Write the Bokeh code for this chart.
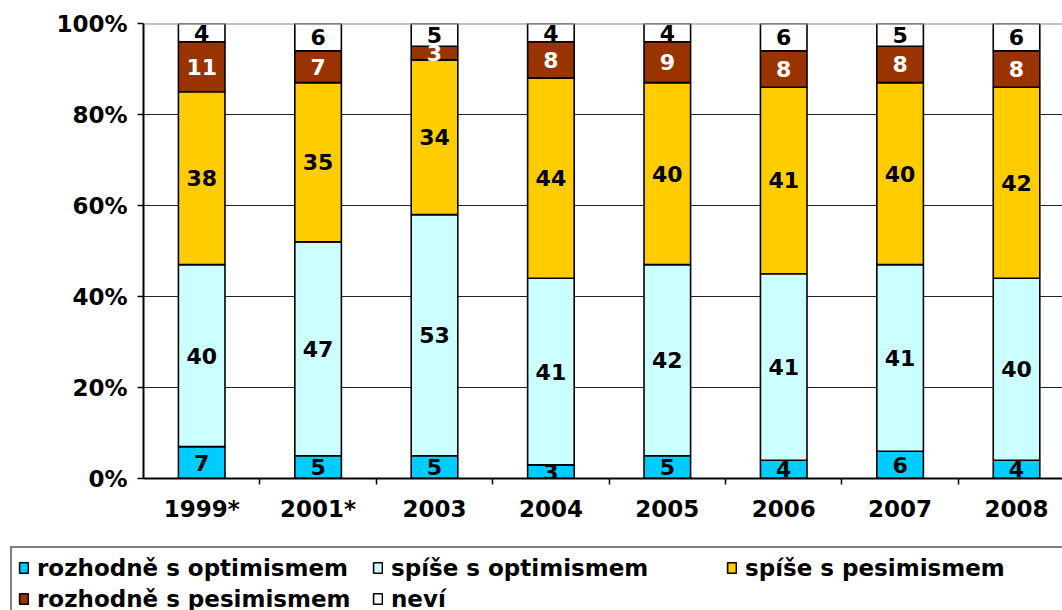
from bokeh.plotting import figure
from bokeh.models import (ColumnDataSource, FixedTicker, Range1d, Span, Legend,
                          LegendItem)
from bokeh.core.properties import value
from bokeh.embed import file_html
from bokeh.resources import INLINE

categories = ["1999*", "2001*", "2003", "2004", "2005", "2006", "2007", "2008"]
series_names = ["rozhodně s optimismem", "spíše s optimismem", "spíše s pesimismem",
                "rozhodně s pesimismem", "neví"]
rozhodne_opt = [7, 5, 5, 3, 5, 4, 6, 4]
spise_opt = [40, 47, 53, 41, 42, 41, 41, 40]
spise_pes = [38, 35, 34, 44, 40, 41, 40, 42]
rozhodne_pes = [11, 7, 3, 8, 9, 8, 8, 8]
nevi = [4, 6, 5, 4, 4, 6, 5, 6]
colors = ["#00CCFF", "#CCFFFF", "#FFCC00", "#993300", "#FFFFFF"]
label_colors = ["black", "black", "black", "white", "black"]
y_ticks = [0, 20, 40, 60, 80, 100]

FONT = "DejaVu Sans"
series = [rozhodne_opt, spise_opt, spise_pes, rozhodne_pes, nevi]
xs = list(range(len(categories)))

p = figure(width=1062, height=540, output_backend="svg", toolbar_location=None,
           x_range=Range1d(-0.5, 7.395), y_range=Range1d(0, 100),
           min_border_left=143, min_border_right=0, min_border_top=23,
           min_border_bottom=62)
p.outline_line_color = None
p.background_fill_color = "white"
p.border_fill_color = "white"

data = {"x": xs}
keys = []
for i, s in enumerate(series):
    k = f"s{i}"
    keys.append(k)
    data[k] = s
src = ColumnDataSource(data)
p.vbar_stack(keys, x="x", width=0.4, source=src, fill_color=colors,
             line_color="black", line_width=1.6)

# value labels
lx, ly, lt, lc = [], [], [], []
for ci in xs:
    bottom = 0
    for si, s in enumerate(series):
        v = s[ci]
        lx.append(ci)
        ly.append(bottom + v / 2)
        lt.append(str(v))
        lc.append(label_colors[si])
        bottom += v
lsrc = ColumnDataSource(dict(x=lx, y=ly, t=lt, c=lc))
p.text(x="x", y="y", text="t", source=lsrc, text_color="c",
       text_font=value(FONT), text_font_style="bold", text_font_size="22px",
       text_align="center", text_baseline="middle")

# grid
p.xgrid.visible = False
p.ygrid.ticker = FixedTicker(ticks=[20, 40, 60, 80])
p.ygrid.grid_line_color = "#222222"
p.ygrid.grid_line_width = 1
p.add_layout(Span(location=100, dimension="width", line_color="#888888", line_width=2))

# y axis
yax = p.yaxis[0]
yax.ticker = FixedTicker(ticks=y_ticks)
yax.major_label_overrides = {t: f"{t}%" for t in y_ticks}
yax.axis_line_width = 2
yax.axis_line_color = "black"
yax.major_tick_out = 6
yax.major_tick_in = 0
yax.minor_tick_out = 0
yax.minor_tick_in = 0
yax.major_tick_line_width = 1.5
yax.major_label_standoff = 10
yax.major_label_text_font = FONT
yax.major_label_text_font_style = "bold"
yax.major_label_text_font_size = "23px"
yax.major_label_text_color = "black"

# x axis
xax = p.xaxis[0]
xax.ticker = FixedTicker(ticks=xs, minor_ticks=[i + 0.5 for i in xs])
xax.major_label_overrides = {i: c for i, c in enumerate(categories)}
xax.axis_line_width = 2
xax.axis_line_color = "black"
xax.major_tick_out = 0
xax.major_tick_in = 0
xax.minor_tick_out = 6
xax.minor_tick_in = 0
xax.minor_tick_line_width = 1.5
xax.minor_tick_line_color = "black"
xax.major_label_standoff = 11
xax.major_label_text_font = FONT
xax.major_label_text_font_style = "bold"
xax.major_label_text_font_size = "23px"
xax.major_label_text_color = "black"

# legend strip below the chart; its renderers share the data but are hidden
p2 = figure(width=1062, height=70, output_backend="svg", toolbar_location=None,
            x_axis_location=None, y_axis_location=None,
            x_range=Range1d(-0.5, 7.395), y_range=Range1d(0, 100),
            min_border_left=0, min_border_right=0, min_border_top=0,
            min_border_bottom=0)
p2.outline_line_color = None
p2.grid.visible = False
p2.border_fill_color = "white"
p2.background_fill_color = "white"
leg_renderers = p2.vbar_stack(keys, x="x", width=0.4, source=src, fill_color=colors,
                              line_color="black", line_width=1.6)
for r in leg_renderers:
    r.visible = False
items = [LegendItem(label=n, renderers=[r]) for n, r in zip(series_names, leg_renderers)]
legend = Legend(items=items, location=(10, -10), orientation="horizontal", ncols=3,
                label_text_font=FONT, label_text_font_style="bold",
                label_text_font_size="23px", label_text_color="black",
                glyph_width=11, glyph_height=13, label_standoff=8,
                label_width=331, label_height=27, spacing=4, padding=6,
                border_line_color="black", border_line_width=2,
                background_fill_color="white", background_fill_alpha=1.0,
                inactive_fill_alpha=0.0)
p2.add_layout(legend, "center")

open("out.html", "w").write(file_html([p, p2], INLINE))
